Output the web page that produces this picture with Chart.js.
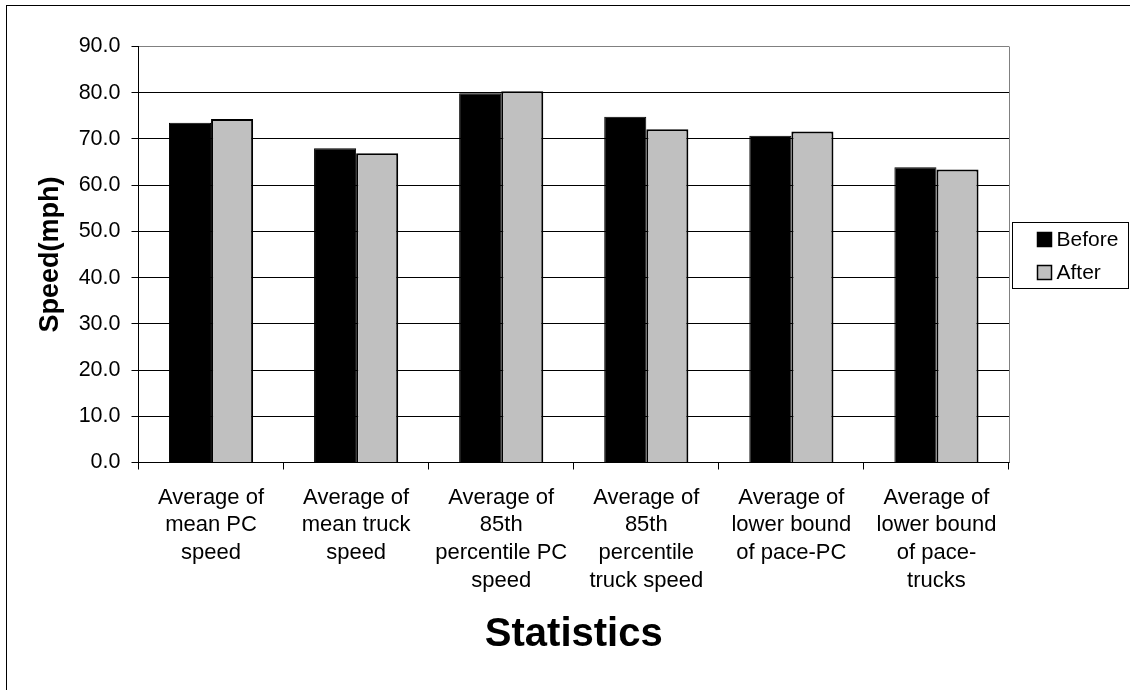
<!DOCTYPE html>
<html>
<head>
<meta charset="utf-8">
<script src="https://cdn.jsdelivr.net/npm/chart.js@4/dist/chart.umd.min.js"></script>
<style>
  html, body { margin: 0; padding: 0; background: #fff; }
  #wrap { width: 1130px; height: 690px; }
</style>
</head>
<body>
<div id="wrap"><canvas id="c" width="1130" height="690"></canvas></div>
<script>
// Speed statistics before and after
const categories = [
  ["Average of", "mean PC", "speed"],
  ["Average of", "mean truck", "speed"],
  ["Average of", "85th", "percentile PC", "speed"],
  ["Average of", "85th", "percentile", "truck speed"],
  ["Average of", "lower bound", "of pace-PC"],
  ["Average of", "lower bound", "of pace-", "trucks"]
];
const beforeValues = [73.5, 68.0, 79.9, 74.8, 70.7, 63.9];
const afterValues = [74.3, 66.9, 80.3, 72.1, 71.6, 63.4];
const seriesNames = ["Before", "After"];
const yMin = 0, yMax = 90, yStep = 10;
const yTitle = "Speed(mph)";
const xTitle = "Statistics";

const FONT = '"Liberation Sans", Arial, Helvetica, sans-serif';

// Outer frame and the boxed legend on the right
const decorations = {
  id: 'decorations',
  afterDraw(chart) {
    const ctx = chart.ctx;
    const a = chart.chartArea;
    ctx.save();
    // frame around the whole chart
    ctx.strokeStyle = '#000';
    ctx.lineWidth = 1;
    ctx.strokeRect(6.5, 5.5, 1200, 800);
    // plot area right edge
    ctx.strokeStyle = '#808080';
    ctx.beginPath();
    ctx.moveTo(Math.round(a.right) + 0.5, a.top);
    ctx.lineTo(Math.round(a.right) + 0.5, a.bottom);
    ctx.stroke();

    // legend
    const lx = Math.round(a.right) + 3.5, ly = 222.5, lw = 116, lh = 66;
    ctx.strokeStyle = '#000';
    ctx.lineWidth = 1;
    ctx.fillStyle = '#fff';
    ctx.fillRect(lx, ly, lw, lh);
    ctx.strokeRect(lx, ly, lw, lh);
    ctx.font = '21px ' + FONT;
    ctx.textBaseline = 'middle';
    ctx.textAlign = 'left';
    chart.data.datasets.forEach((ds, i) => {
      const cy = ly + 17 + i * 33;
      const sx = lx + 25;
      ctx.fillStyle = ds.backgroundColor;
      ctx.fillRect(sx, cy - 7, 14, 14);
      ctx.strokeStyle = '#000';
      ctx.lineWidth = 1.5;
      ctx.strokeRect(sx, cy - 7, 14, 14);
      ctx.fillStyle = '#000';
      ctx.fillText(ds.label, sx + 19, cy + 1);
    });
    ctx.restore();
  }
};

new Chart(document.getElementById('c'), {
  type: 'bar',
  data: {
    labels: categories,
    datasets: [
      {
        label: seriesNames[0],
        data: beforeValues,
        backgroundColor: '#000000',
        borderColor: '#000000',
        borderWidth: 1,
        categoryPercentage: 0.58,
        barPercentage: 1.0
      },
      {
        label: seriesNames[1],
        data: afterValues,
        backgroundColor: '#C0C0C0',
        borderColor: '#000000',
        borderWidth: 2,
        categoryPercentage: 0.58,
        barPercentage: 1.0
      }
    ]
  },
  options: {
    responsive: false,
    animation: false,
    devicePixelRatio: 1,
    layout: { padding: { top: 46.5, right: 121, left: 0, bottom: 0 } },
    plugins: {
      legend: { display: false },
      tooltip: { enabled: false }
    },
    scales: {
      x: {
        offset: true,
        grid: {
          display: true,
          offset: true,
          drawOnChartArea: false,
          drawTicks: true,
          tickLength: 7,
          color: '#000',
          lineWidth: 1
        },
        border: { display: true, color: '#000', width: 1 },
        ticks: {
          autoSkip: false,
          maxRotation: 0,
          minRotation: 0,
          padding: 14,
          color: '#000',
          font: { family: FONT, size: 22, lineHeight: 1.27 }
        },
        title: {
          display: true,
          text: xTitle,
          color: '#000',
          font: { family: FONT, size: 40, weight: 'bold', lineHeight: 1.2 },
          padding: { top: 0, bottom: 31 }
        },
        afterFit(scale) { scale.height = 227.5; }
      },
      y: {
        min: yMin,
        max: yMax,
        ticks: {
          stepSize: yStep,
          padding: 11,
          color: '#000',
          font: { family: FONT, size: 21.5 },
          callback: v => Number(v).toFixed(1)
        },
        grid: {
          color: ctx => (ctx.tick && ctx.tick.value === yMax) ? '#808080' : '#000',
          tickColor: '#000',
          lineWidth: 1,
          drawTicks: true,
          tickLength: 7
        },
        border: { display: true, color: '#000', width: 1 },
        title: {
          display: true,
          text: yTitle,
          color: '#000',
          font: { family: FONT, size: 27, weight: 'bold', lineHeight: 1.2 },
          padding: { top: 34, bottom: 0 }
        },
        afterFit(scale) { scale.width = 138.5; }
      }
    }
  },
  plugins: [decorations]
});
</script>
</body>
</html>
